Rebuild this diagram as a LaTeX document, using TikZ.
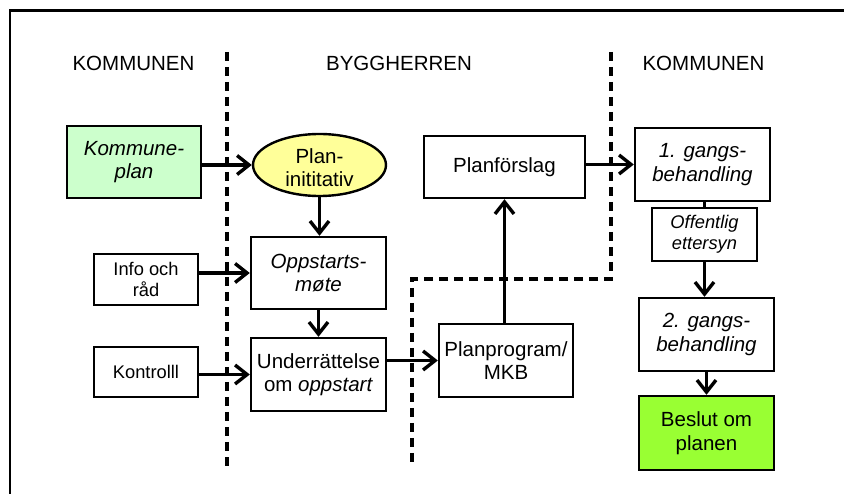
\documentclass[tikz,border=0pt]{standalone}
\usepackage{fontspec}
\setmainfont{Liberation Sans}
\usetikzlibrary{arrows.meta,shapes.geometric}
\definecolor{planGreen}{HTML}{CCFFCC}
\definecolor{planYellow}{HTML}{FFFF99}
\definecolor{decisionGreen}{HTML}{99FF33}
\begin{document}
\begin{tikzpicture}[x=1pt,y=-1pt,
  txt/.style={align=center, inner sep=0pt, font=\fontsize{20.5}{23.5}\selectfont},
  small/.style={align=center, inner sep=0pt, font=\fontsize{18.3}{21.5}\selectfont},
  box/.style={draw, line width=2.4pt, align=center, inner sep=0pt},
  flow/.style={line width=3.4pt, -{Straight Barb[length=12pt,width=19pt]}},
  link/.style={line width=3.4pt},
  border/.style={line width=3.4pt, dash pattern=on 9pt off 6pt},
  head/.style={inner sep=0pt, font=\fontsize{20.5}{23.5}\selectfont}]
\useasboundingbox (0,0) rectangle (844,494);
\clip (0,0) rectangle (844,494);
\fill[white] (0,0) rectangle (844,494);

% outer frame (runs off the right and bottom edges)
\draw[line width=2.8pt] (10,520) -- (10,10.5) -- (870,10.5);

% column headings
\node[head] (hleft)  at (133.5,63) {KOMMUNEN};
\node[head] (hmid)   at (399,63)   {BYGGHERREN};
\node[head] (hright) at (703.5,63) {KOMMUNEN};

% responsibility borders
\coordinate (b1top) at (227,52);
\coordinate (b1bot) at (227,471);
\coordinate (b2top) at (611,52);
\coordinate (b2knee) at (611,279);
\coordinate (b2corner) at (412,279);
\coordinate (b2bot) at (412,465);
\draw[border] (b1top) -- (b1bot);
\draw[border] (b2top) -- (b2knee) -- (b2corner) -- (b2bot);

% left column
\node[box, txt, fill=planGreen, minimum width=134, minimum height=72,
      font=\fontsize{20.5}{23.5}\selectfont\itshape] (kplan) at (134,162) {Kommune-\\plan};
\node[box, small, minimum width=104, minimum height=51] (info) at (146,279.5) {Info och\\råd};
\node[box, small, minimum width=104, minimum height=50] (kontr) at (146,372) {Kontrolll};

% middle column
\node[draw, ellipse, line width=2.4pt, fill=planYellow, inner sep=0pt,
      minimum width=133, minimum height=62] (plani) at (319.5,165) {};
\node[txt] (planitext) at (319.5,167.5) {Plan-\\inititativ};
\node[box, txt, minimum width=135, minimum height=72,
      font=\fontsize{20.5}{23.5}\selectfont\itshape] (oppst) at (318.5,273) {Oppstarts-\\møte};
\node[box, txt, minimum width=135, minimum height=73] (under) at (318.5,374.5)
      {Underrättelse\\om \textit{oppstart}};
\node[box, txt, minimum width=161, minimum height=62] (planf) at (504.5,167) {Planförslag};
\node[box, txt, minimum width=134, minimum height=73] (planp) at (506,360.5) {Planprogram/\\MKB};

% right column
\node[box, txt, minimum width=135, minimum height=73,
      font=\fontsize{20.5}{23.5}\selectfont\itshape] (gang1) at (702.5,164.5) {1. gangs-\\behandling};
\node[box, small, minimum width=105, minimum height=53,
      font=\fontsize{18.3}{21.5}\selectfont\itshape] (offent) at (704.5,234.5) {Offentlig\\ettersyn};
\node[box, txt, minimum width=135, minimum height=73,
      font=\fontsize{20.5}{23.5}\selectfont\itshape] (gang2) at (706.5,334.5) {2. gangs-\\behandling};
\node[box, txt, fill=decisionGreen, minimum width=135, minimum height=74] (beslut) at (706.5,433)
      {Beslut om\\planen};

% process flow
\draw[flow] (kplan.east |- plani.west) -- (plani.west);
\draw[flow] (plani.south) -- (plani.south |- oppst.north);
\draw[flow] (info.east |- oppst.west) -- (oppst.west);
\draw[flow] (oppst.south) -- (oppst.south |- under.north);
\draw[flow] (kontr.east |- under.west) -- (under.west);
\draw[flow] (under.east |- planp.west) -- (planp.west);
\draw[flow] (planp.north -| planf.south) -- (planf.south);
\draw[flow] (planf.east |- gang1.west) -- (gang1.west);
\draw[link] (offent.north |- gang1.south) -- (offent.north);
\draw[flow] (offent.south) -- (offent.south |- gang2.north);
\draw[flow] (gang2.south) -- (beslut.north);
\end{tikzpicture}
\end{document}
